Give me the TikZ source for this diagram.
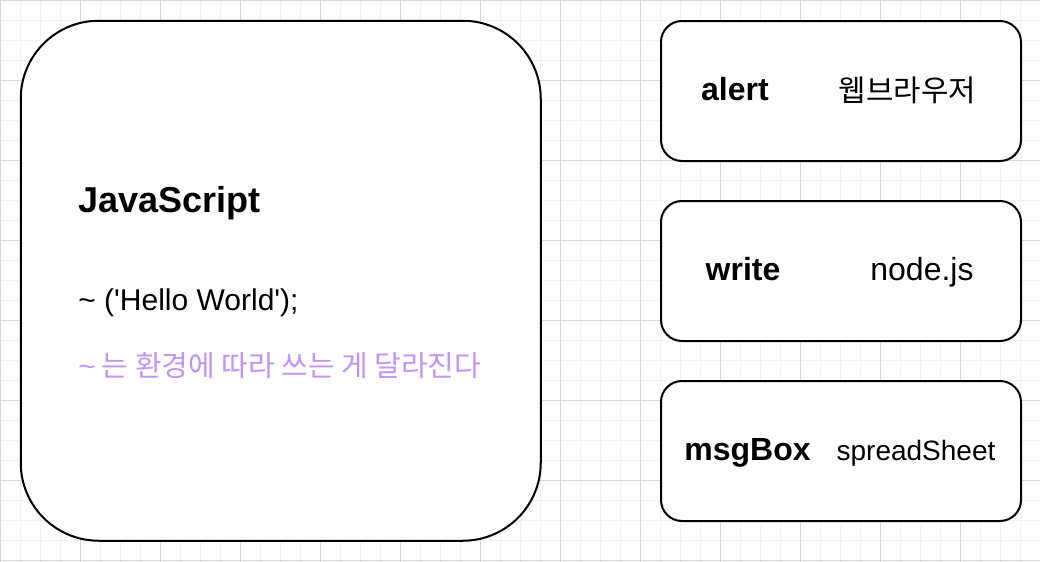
\documentclass[tikz,border=0pt]{standalone}
\usepackage{fontspec}
\setmainfont{Liberation Sans}[Ligatures=TeXOff]
\newfontfamily\krfont{Noto Sans CJK KR}
\usetikzlibrary{positioning}
\definecolor{gridMinor}{RGB}{242,242,242}
\definecolor{gridMajor}{RGB}{214,214,214}
\definecolor{noteText}{RGB}{192,150,245}
\tikzset{
    bigbox/.style={rectangle,draw=black,line width=1pt,rounded corners=39pt,
        minimum width=260pt,minimum height=260pt,fill=white,inner sep=0pt},
    envbox/.style={rectangle,draw=black,line width=1pt,rounded corners=10.5pt,
        minimum width=180pt,minimum height=70pt,fill=white,inner sep=0pt},
    title/.style={font=\fontsize{18}{22}\selectfont\bfseries,anchor=base west,inner sep=0pt},
    code/.style={font=\fontsize{15}{18}\selectfont,anchor=base west,inner sep=0pt},
    note/.style={font=\krfont\fontsize{14.5}{17}\selectfont,text=noteText,anchor=base west,inner sep=0pt},
    fnlbl/.style={font=\fontsize{16}{19}\selectfont\bfseries,anchor=base,inner sep=0pt},
    envlbl/.style={font=\fontsize{16}{19}\selectfont,anchor=base,inner sep=0pt},
    krlbl/.style={font=\krfont\fontsize{14.9}{17}\selectfont,anchor=base,inner sep=0pt}
}

\begin{document}
\begin{tikzpicture}[x=0.5pt,y=-0.5pt]
    \useasboundingbox (0,0) rectangle (1040,562);
    % background grid
    \foreach \gx in {0,20,...,1040} {\draw[gridMinor,line width=0.5pt] (\gx,0) -- (\gx,562);}
    \foreach \gy in {0,20,...,560} {\draw[gridMinor,line width=0.5pt] (0,\gy) -- (1040,\gy);}
    \foreach \gx in {0,80,...,1040} {\draw[gridMajor,line width=0.5pt] (\gx,0) -- (\gx,562);}
    \foreach \gy in {0,80,...,560} {\draw[gridMajor,line width=0.5pt] (0,\gy) -- (1040,\gy);}

    % language box
    \node[bigbox] (js) at (280.75,280.75) {};
    \node[title] (jsname)  at (78,212) {JavaScript};
    \node[code]  (hello)   at (78,310) {\textasciitilde{} ('Hello World');};
    \node[note]  (envnote) at (78,376) {{\rmfamily\textasciitilde} 는 환경에 따라 쓰는 게 달라진다};

    % environments
    \node[envbox] (browser) at (841,91)  {};
    \node[envbox] (nodejs)  at (841,271) {};
    \node[envbox] (sheet)   at (841,451) {};
    \node[fnlbl]  (alert)   at (735,100)   {alert};
    \node[krlbl]  (brname)  at (907.5,101) {웹브라우저};
    \node[fnlbl]  (write)   at (743,280)   {write};
    \node[envlbl] (ndname)  at (922,280)   {node.js};
    \node[fnlbl]  (msgbox)  at (747.5,460) {msgBox};
    \node[envlbl,font=\fontsize{14}{17}\selectfont] (shname) at (916,460) {spreadSheet};
\end{tikzpicture}
\end{document}
